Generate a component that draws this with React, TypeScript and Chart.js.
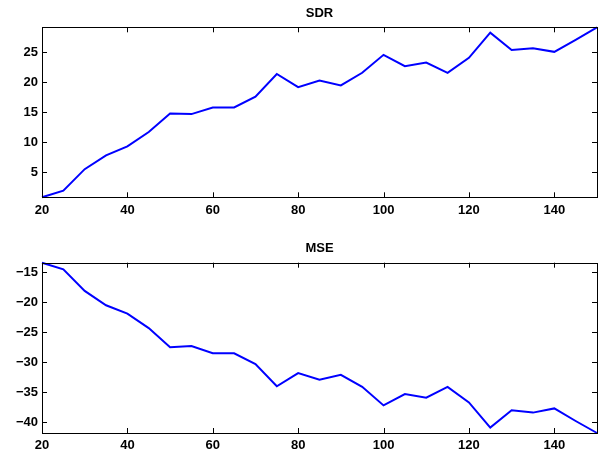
import React, { useEffect, useRef } from "react";
import { Chart, registerables } from "chart.js";

Chart.register(...registerables);

const xValues = [20, 25, 30, 35, 40, 45, 50, 55, 60, 65, 70, 75, 80, 85, 90, 95, 100, 105, 110, 115, 120, 125, 130, 135, 140, 145, 150];
const sdrValues = [0.8, 1.9, 5.5, 7.8, 9.3, 11.7, 14.8, 14.7, 15.8, 15.8, 17.6, 21.4, 19.2, 20.3, 19.5, 21.6, 24.6, 22.7, 23.3, 21.6, 24.1, 28.3, 25.4, 25.7, 25.1, 27.1, 29.2];
const mseValues = [-13.4, -14.5, -18.1, -20.5, -21.9, -24.3, -27.5, -27.3, -28.5, -28.5, -30.3, -34.0, -31.8, -32.9, -32.1, -34.1, -37.2, -35.3, -35.9, -34.1, -36.7, -40.9, -38.0, -38.4, -37.7, -39.8, -41.8];
const xTicks = [20, 40, 60, 80, 100, 120, 140];
const sdrTicks = [5, 10, 15, 20, 25];
const mseTicks = [-40, -35, -30, -25, -20, -15];

const FONT = "'Liberation Sans', Arial, Helvetica, sans-serif";

const boxPlugin = {
  id: "matlabBox",
  afterDraw(chart: any, _args: any, opts: any) {
    const { ctx, chartArea } = chart;
    const { left, right, top, bottom } = chartArea;
    const xs = chart.scales.x;
    const ys = chart.scales.y;
    const len = 5;
    ctx.save();
    ctx.strokeStyle = "#000";
    ctx.lineWidth = 1;
    ctx.beginPath();
    for (const t of xs.ticks) {
      const px = Math.round(xs.getPixelForValue(t.value)) + 0.5;
      ctx.moveTo(px, bottom);
      ctx.lineTo(px, bottom - len);
      ctx.moveTo(px, top);
      ctx.lineTo(px, top + len);
    }
    for (const t of ys.ticks) {
      const py = Math.round(ys.getPixelForValue(t.value)) + 0.5;
      ctx.moveTo(left, py);
      ctx.lineTo(left + len, py);
      ctx.moveTo(right, py);
      ctx.lineTo(right - len, py);
    }
    ctx.stroke();
    ctx.strokeRect(Math.round(left) + 0.5, Math.round(top) + 0.5, Math.round(right - left), Math.round(bottom - top));
    // title
    ctx.fillStyle = "#000";
    ctx.font = `bold 13px ${FONT}`;
    ctx.textAlign = "center";
    ctx.textBaseline = "middle";
    ctx.fillText(opts.text, (left + right) / 2, top - 14);
    ctx.restore();
  },
};

function fmt(v: number) {
  return v < 0 ? "\u2212" + Math.abs(v) : String(v);
}

function Panel(props: { values: number[]; yTicks: number[]; title: string; padTop: number; padBottom: number }) {
  const ref = useRef<HTMLCanvasElement>(null);
  useEffect(() => {
    const ymin = Math.min(...props.values);
    const ymax = Math.max(...props.values);
    const chart = new Chart(ref.current as HTMLCanvasElement, {
      type: "line",
      data: {
        datasets: [
          {
            data: xValues.map((x, i) => ({ x, y: props.values[i] })),
            borderColor: "#0000FF",
            borderWidth: 2,
            pointRadius: 0,
            tension: 0,
            fill: false,
            clip: false as any,
          },
        ],
      },
      options: {
        animation: false,
        responsive: false,
        devicePixelRatio: 1,
        layout: { padding: { left: 0, right: 13, top: props.padTop, bottom: props.padBottom } },
        plugins: {
          legend: { display: false },
          tooltip: { enabled: false },
          title: { display: false },
          matlabBox: { text: props.title },
        } as any,
        scales: {
          x: {
            type: "linear",
            min: 20,
            max: 150,
            grid: { display: false, drawTicks: false },
            border: { display: false },
            afterBuildTicks: (s: any) => {
              s.ticks = xTicks.map((v) => ({ value: v }));
            },
            afterFit: (s: any) => {
              s.height = 19;
            },
            ticks: {
              padding: 5,
              color: "#000",
              font: { family: FONT, size: 13, weight: "bold" },
              callback: (v: any) => fmt(Number(v)),
              maxRotation: 0,
            },
          },
          y: {
            type: "linear",
            min: ymin,
            max: ymax,
            grid: { display: false, drawTicks: false },
            border: { display: false },
            afterBuildTicks: (s: any) => {
              s.ticks = props.yTicks.map((v) => ({ value: v }));
            },
            afterFit: (s: any) => {
              s.width = 42;
            },
            ticks: {
              padding: 4,
              color: "#000",
              font: { family: FONT, size: 13, weight: "bold" },
              callback: (v: any) => fmt(Number(v)),
            },
          },
        },
      },
      plugins: [boxPlugin],
    });
    return () => chart.destroy();
  }, []);
  return (
    <div style={{ width: 610, height: 226 }}>
      <canvas ref={ref} width={610} height={226} style={{ display: "block" }} />
    </div>
  );
}

export default function App() {
  return (
    <div style={{ position: "fixed", left: 0, top: 0, width: 610, height: 452, background: "#fff" }}>
      <Panel values={sdrValues} yTicks={sdrTicks} title="SDR" padTop={27.3} padBottom={9.7} />
      <Panel values={mseValues} yTicks={mseTicks} title="MSE" padTop={36.7} padBottom={0} />
    </div>
  );
}
